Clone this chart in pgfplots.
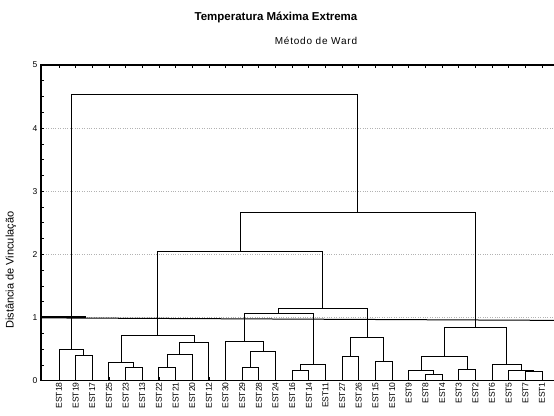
\documentclass[border=0pt]{standalone}
\usepackage{fontspec}
\setmainfont{Liberation Sans}
\usepackage{pgfplots}
\pgfplotsset{compat=1.18}

\begin{document}
\begin{tikzpicture}[x=1pt,y=1pt]
\useasboundingbox (0,0) rectangle (554,415);
% titles
\node[font=\fontsize{11.5}{11.5}\selectfont\bfseries] at (276,398) {Temperatura Máxima Extrema};
\node[font=\fontsize{10}{10}\selectfont\addfontfeature{LetterSpace=8}] at (316,374) {Método de Ward};
\begin{axis}[
    at={(41pt,34.3pt)}, anchor=south west,
    scale only axis, width=520pt, height=315.7pt,
    xmin=-0.081, xmax=31.14, ymin=0, ymax=5,
    axis line style={black, line width=1.1pt},
    xtick={1,...,30},
    xticklabels={EST18,EST19,EST17,EST25,EST23,EST13,EST22,EST21,EST20,EST12,
                 EST30,EST29,EST28,EST24,EST16,EST14,EST11,EST27,EST26,EST15,
                 EST10,EST9,EST8,EST4,EST3,EST2,EST6,EST5,EST7,EST1},
    x tick label style={rotate=90, anchor=east, font=\fontsize{8.5}{8.5}\selectfont, inner sep=1.5pt},
    xtick pos=both, xticklabel pos=lower,
    ytick={0,...,5}, minor y tick num=3, ytick pos=left,
    y tick label style={font=\fontsize{8.5}{8.5}\selectfont},
    /pgf/number format/assume math mode=true,
    tick align=inside, major tick length=3.5pt, minor tick length=3pt,
    tick style={black, line width=0.8pt},
    ymajorgrids, major grid style={dotted, gray!60, line width=0.8pt},
    ylabel={Distância de Vinculação},
    ylabel style={at={(axis description cs:-0.058,0.35)}, anchor=center, font=\fontsize{11}{11}\selectfont},
    br/.style={black, line width=1pt, mark=none, forget plot},
]
% cut line
\addplot[br] coordinates {(-0.081,0.995) (31.14,0.955)};
\addplot[black, line width=1.7pt, forget plot] coordinates {(-0.081,1.005) (2.6,1.005)};
% dendrogram branches: (left x, left child h) (left x, h) (right x, h) (right x, right child h)
\addplot[br] coordinates {(2,0) (2,0.397) (3,0.397) (3,0)};
\addplot[br] coordinates {(1,0) (1,0.487) (2.5,0.487) (2.5,0.397)};
\addplot[br] coordinates {(5,0) (5,0.213) (6,0.213) (6,0)};
\addplot[br] coordinates {(4,0) (4,0.292) (5.5,0.292) (5.5,0.213)};
\addplot[br] coordinates {(7,0) (7,0.213) (8,0.213) (8,0)};
\addplot[br] coordinates {(7.5,0.213) (7.5,0.408) (9,0.408) (9,0)};
\addplot[br] coordinates {(8.25,0.408) (8.25,0.61) (10,0.61) (10,0)};
\addplot[br] coordinates {(4.75,0.292) (4.75,0.714) (9.125,0.714) (9.125,0.61)};
\addplot[br] coordinates {(12,0) (12,0.213) (13,0.213) (13,0)};
\addplot[br] coordinates {(12.5,0.213) (12.5,0.46) (14,0.46) (14,0)};
\addplot[br] coordinates {(11,0) (11,0.62) (13.25,0.62) (13.25,0.46)};
\addplot[br] coordinates {(15,0) (15,0.154) (16,0.154) (16,0)};
\addplot[br] coordinates {(15.5,0.154) (15.5,0.25) (17,0.25) (17,0)};
\addplot[br] coordinates {(12.125,0.62) (12.125,1.06) (16.25,1.06) (16.25,0.25)};
\addplot[br] coordinates {(18,0) (18,0.38) (19,0.38) (19,0)};
\addplot[br] coordinates {(20,0) (20,0.297) (21,0.297) (21,0)};
\addplot[br] coordinates {(18.5,0.38) (18.5,0.68) (20.5,0.68) (20.5,0.297)};
\addplot[br] coordinates {(14.1875,1.06) (14.1875,1.15) (19.5,1.15) (19.5,0.68)};
\addplot[br] coordinates {(6.9375,0.714) (6.9375,2.05) (16.84375,2.05) (16.84375,1.15)};
\addplot[br] coordinates {(23,0) (23,0.10) (24,0.10) (24,0)};
\addplot[br] coordinates {(22,0) (22,0.16) (23.5,0.16) (23.5,0.10)};
\addplot[br] coordinates {(25,0) (25,0.18) (26,0.18) (26,0)};
\addplot[br] coordinates {(22.75,0.16) (22.75,0.38) (25.5,0.38) (25.5,0.18)};
\addplot[br] coordinates {(29,0) (29,0.143) (30,0.143) (30,0)};
\addplot[br] coordinates {(28,0) (28,0.159) (29.5,0.159) (29.5,0.143)};
\addplot[br] coordinates {(27,0) (27,0.25) (28.75,0.25) (28.75,0.159)};
\addplot[br] coordinates {(24.125,0.38) (24.125,0.845) (27.875,0.845) (27.875,0.25)};
\addplot[br] coordinates {(11.890625,2.05) (11.890625,2.67) (26,2.67) (26,0.845)};
\addplot[br] coordinates {(1.75,0.487) (1.75,4.535) (18.9453,4.535) (18.9453,2.67)};
\end{axis}
\end{tikzpicture}
\end{document}
